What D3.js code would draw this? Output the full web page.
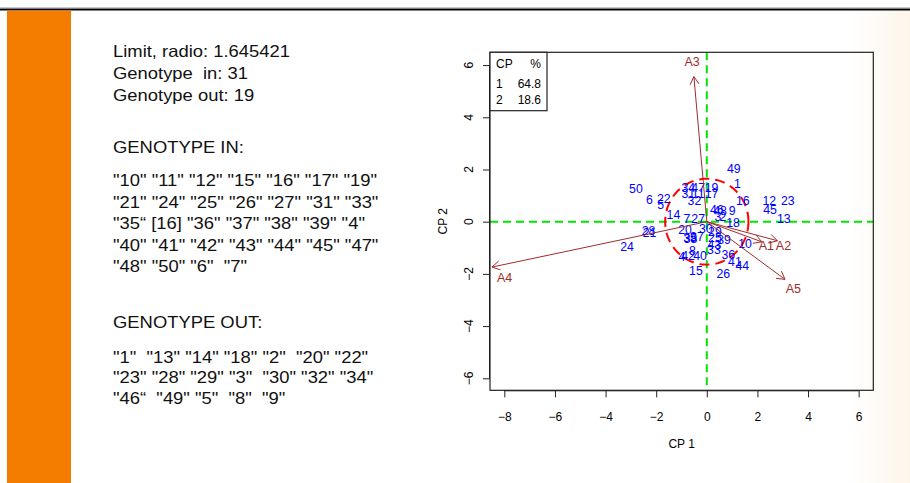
<!DOCTYPE html>
<html><head><meta charset="utf-8">
<script src="https://cdn.jsdelivr.net/npm/d3@7"></script>
<style>
body{margin:0;background:#fff}
svg{display:block}
text{font-family:"Liberation Sans",Arial,Helvetica,sans-serif}
</style>
</head><body>
<svg id="c" width="910" height="483"></svg>
<script>
// ---------- data ----------
const genotypes = ["1","2","3","4","5","6","7","8","9","10",
  "11","12","13","14","15","16","17","18","19","20",
  "21","22","23","24","25","26","27","28","29","30",
  "31","32","33","34","35","36","37","38","39","40",
  "41","42","43","44","45","46","47","48","49","50"];
const cp1 = [1.21,0.64,0.44,-0.98,-1.82,-2.27,-0.79,-0.57,1.00,1.51,
  -0.34,2.47,3.04,-1.32,-0.43,1.42,0.19,1.04,0.19,-0.86,
  -2.26,-1.70,3.20,-3.15,0.32,0.65,-0.34,-2.30,0.32,-0.04,
  -0.73,-0.49,0.28,-0.73,-0.66,0.85,-0.39,-0.64,0.68,-0.27,
  1.11,-0.74,0.30,1.40,2.50,0.40,-0.34,0.52,1.07,-2.80];
const cp2 = [1.47,0.18,0.18,-1.35,0.64,0.85,0.13,-1.10,0.43,-0.84,
  1.08,0.80,0.13,0.28,-1.86,0.80,1.06,-0.05,1.31,-0.32,
  -0.41,0.89,0.80,-0.95,-0.59,-1.99,0.13,-0.34,-0.39,-0.26,
  1.06,0.80,-1.08,1.29,-0.59,-1.25,-0.57,-0.64,-0.68,-1.29,
  -1.52,-1.31,-0.88,-1.67,0.45,0.45,1.32,0.41,2.02,1.25];

const variables = ["A1","A2","A3","A4","A5"];
const varCp1 = [2.17,2.79,-0.51,-8.49,3.09];
const varCp2 = [-0.77,-0.73,5.56,-1.74,-2.21];
const varLabelCp1 = [2.35,3.03,-0.58,-7.99,3.42];
const varLabelCp2 = [-0.93,-0.93,6.12,-2.12,-2.55];

const limitRadius = 1.645421;
const xTicks = [-8,-6,-4,-2,0,2,4,6];
const yTicks = [-6,-4,-2,0,2,4,6];
const legendCP = ["1","2"];
const legendPct = ["64.8","18.6"];

const infoLines = [
  "Limit, radio: 1.645421",
  "Genotype  in: 31",
  "Genotype out: 19"
];
const inHeader = "GENOTYPE IN:";
const inLines = [
  '"10" "11" "12" "15" "16" "17" "19"',
  '"21" "24" "25" "26" "27" "31" "33"',
  '"35\u201C [16] "36" "37" "38" "39" "4"',
  '"40" "41" "42" "43" "44" "45" "47"',
  '"48" "50" "6"  "7"'
];
const outHeader = "GENOTYPE OUT:";
const outLines = [
  '"1"  "13" "14" "18" "2"  "20" "22"',
  '"23" "28" "29" "3"  "30" "32" "34"',
  '"46\u201C  "49" "5"  "8"  "9"'
];

// ---------- page decoration ----------
const svg = d3.select("#c");
const defs = svg.append("defs");
const grad = defs.append("linearGradient").attr("id","rg").attr("x1","0").attr("x2","1");
grad.append("stop").attr("offset","0").attr("stop-color","#ffffff");
grad.append("stop").attr("offset","1").attr("stop-color","#fcf6ea");
svg.append("rect").attr("x",850).attr("y",10).attr("width",60).attr("height",473).attr("fill","url(#rg)");
svg.append("line").attr("x1",0).attr("x2",910).attr("y1",7.5).attr("y2",7.5).attr("stroke","#c8c8c8").attr("stroke-width",1);
svg.append("line").attr("x1",0).attr("x2",910).attr("y1",9.5).attr("y2",9.5).attr("stroke","#000").attr("stroke-width",2);
svg.append("rect").attr("x",7).attr("y",10.5).attr("width",64).attr("height",473).attr("fill","#f47d00");

// ---------- left text ----------
const tg = svg.append("g").attr("transform","translate(113,0) scale(1.13,1)");
const tstyle = s => s.attr("font-size",16.3).attr("fill","#111").style("white-space","pre");
tg.selectAll("text.info").data(infoLines).join("text").attr("class","info")
  .attr("x",0).attr("y",(d,i)=>56.7+i*22.2).text(d=>d).call(tstyle);
tg.append("text").attr("x",0).attr("y",153.3).text(inHeader).call(tstyle);
tg.selectAll("text.inl").data(inLines).join("text").attr("class","inl")
  .attr("x",0).attr("y",(d,i)=>186.5+i*21.5).text(d=>d).call(tstyle);
tg.append("text").attr("x",0).attr("y",327.7).text(outHeader).call(tstyle);
tg.selectAll("text.outl").data(outLines).join("text").attr("class","outl")
  .attr("x",0).attr("y",(d,i)=>362.7+i*20.7).text(d=>d).call(tstyle);

// ---------- plot ----------
const L=490, R=873.3, T=52.3, B=390.3;
const x = d3.scaleLinear().domain([-8.566,6.578]).range([L,R]);
const y = d3.scaleLinear().domain([-6.46,6.49]).range([B,T]);

const plot = svg.append("g");
plot.append("clipPath").attr("id","clip").append("rect")
  .attr("x",L).attr("y",T).attr("width",R-L).attr("height",B-T);
const inner = plot.append("g").attr("clip-path","url(#clip)");

// green reference lines
inner.append("line").attr("x1",L).attr("x2",R).attr("y1",y(0)).attr("y2",y(0))
  .attr("stroke","#00e600").attr("stroke-width",2).attr("stroke-dasharray","8,5");
inner.append("line").attr("x1",x(0)).attr("x2",x(0)).attr("y1",T).attr("y2",B)
  .attr("stroke","#00e600").attr("stroke-width",2).attr("stroke-dasharray","8,5");

// limit circle
const circ = d3.range(0,361,2).map(a=>[limitRadius*Math.cos(a*Math.PI/180), limitRadius*Math.sin(a*Math.PI/180)]);
inner.append("path").datum(circ)
  .attr("d", d3.line().x(d=>x(d[0])).y(d=>y(d[1])))
  .attr("fill","none").attr("stroke","#ff0000").attr("stroke-width",2).attr("stroke-dasharray","10,6");

// genotype labels
inner.selectAll("text.g").data(genotypes).join("text").attr("class","g")
  .attr("x",(d,i)=>x(cp1[i])).attr("y",(d,i)=>y(cp2[i]))
  .attr("text-anchor","middle").attr("dy","0.36em")
  .attr("font-size",12.3).attr("fill","#0000ff").text(d=>d);

// variable arrows
const arrowCol = "#a02c2c";
variables.forEach((v,i)=>{
  const x0=x(0), y0=y(0), x1=x(varCp1[i]), y1=y(varCp2[i]);
  inner.append("line").attr("x1",x0).attr("y1",y0).attr("x2",x1).attr("y2",y1)
    .attr("stroke",arrowCol).attr("stroke-width",1);
  const ang = Math.atan2(y1-y0,x1-x0), hl=9, ha=Math.PI/6;
  const p = [[x1-hl*Math.cos(ang-ha), y1-hl*Math.sin(ang-ha)],[x1,y1],[x1-hl*Math.cos(ang+ha), y1-hl*Math.sin(ang+ha)]];
  inner.append("path").attr("d", d3.line()(p)).attr("fill","none").attr("stroke",arrowCol).attr("stroke-width",1);
  inner.append("text").attr("x",x(varLabelCp1[i])).attr("y",y(varLabelCp2[i]))
    .attr("text-anchor","middle").attr("dy","0.36em").attr("font-size",12.5)
    .attr("fill",arrowCol).text(v);
});

// frame
plot.append("rect").attr("x",L).attr("y",T).attr("width",R-L).attr("height",B-T)
  .attr("fill","none").attr("stroke","#222").attr("stroke-width",1.2);

// axes
const xAxis = d3.axisBottom(x).tickValues(xTicks).tickSize(7).tickPadding(15).tickFormat(d3.format("d"));
const gx = plot.append("g").attr("transform",`translate(0,${B})`).call(xAxis);
gx.select(".domain").attr("d",`M${x(-8)},0.5H${x(6)}`).attr("stroke","#222");
gx.selectAll(".tick line").attr("stroke","#222");
gx.selectAll("text").attr("font-size",12).attr("fill","#000").attr("font-family","Liberation Sans, Arial, sans-serif");

const yAxis = d3.axisLeft(y).tickValues(yTicks).tickSize(7).tickFormat("");
const gy = plot.append("g").attr("transform",`translate(${L},0)`).call(yAxis);
gy.select(".domain").attr("d",`M-0.5,${y(-6)}V${y(6)}`).attr("stroke","#222");
gy.selectAll(".tick line").attr("stroke","#222");
gy.selectAll(".tick text").remove();
plot.selectAll("text.yt").data(yTicks).join("text").attr("class","yt")
  .attr("transform",d=>`translate(473,${y(d)}) rotate(-90)`)
  .attr("text-anchor","middle").attr("font-size",12).attr("fill","#000")
  .text(d=>d3.format("d")(d));

plot.append("text").attr("x",(L+R)/2).attr("y",448).attr("text-anchor","middle")
  .attr("font-size",12).text("CP 1");
plot.append("text").attr("transform",`translate(447,${(T+B)/2}) rotate(-90)`)
  .attr("text-anchor","middle").attr("font-size",12).text("CP 2");

// legend
const lg = plot.append("g");
lg.append("rect").attr("x",L).attr("y",T).attr("width",57).attr("height",58.4)
  .attr("fill","#fff").attr("stroke","#222").attr("stroke-width",1.2);
lg.append("text").attr("x",L+6).attr("y",68.3).attr("font-size",12).text("CP");
lg.append("text").attr("x",L+51).attr("y",68.3).attr("text-anchor","end").attr("font-size",12).text("%");
lg.selectAll("text.lc").data(legendCP).join("text").attr("class","lc")
  .attr("x",L+6).attr("y",(d,i)=>87.6+i*16).attr("font-size",12).text(d=>d);
lg.selectAll("text.lp").data(legendPct).join("text").attr("class","lp")
  .attr("x",L+51).attr("y",(d,i)=>87.6+i*16).attr("text-anchor","end").attr("font-size",12).text(d=>d);
</script>
</body></html>
